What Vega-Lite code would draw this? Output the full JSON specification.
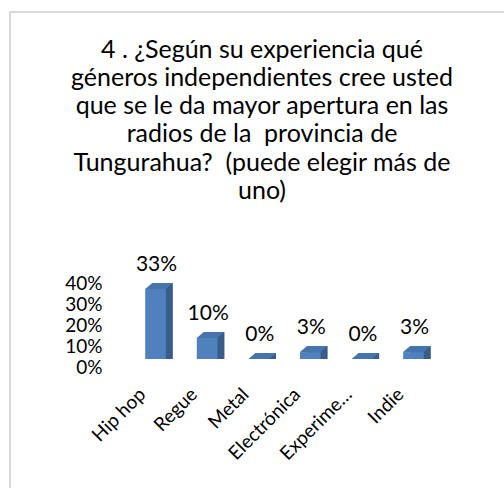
{
  "$schema": "https://vega.github.io/schema/vega-lite/v6.json",
  "autosize": {"type": "none"},
  "padding": {"left": 10, "top": 12, "right": 0, "bottom": 0},
  "width": 504,
  "height": 480,
  "background": "white",
  "config": {
    "font": "Lato",
    "view": {"stroke": "#d9d9d9", "strokeWidth": 2},
    "title": {"font": "Lato", "fontSize": 25, "fontWeight": "normal", "color": "#000000", "lineHeight": 28.3, "anchor": "middle", "frame": "group", "baseline": "alphabetic", "offset": -192}
  },
  "title": {"text": ["4 . ¿Según su experiencia qué", "géneros independientes cree usted", "que se le da mayor apertura en las", "radios de la\u00a0 provincia de", "Tungurahua?\u00a0 (puede elegir más de", "uno)"]},
  "data": {"values": [
    {"genre": "Hip hop", "value": 0.333},
    {"genre": "Regue", "value": 0.1},
    {"genre": "Metal", "value": 0},
    {"genre": "Electrónica", "value": 0.033},
    {"genre": "Experimental", "value": 0},
    {"genre": "Indie", "value": 0.033}
  ]},
  "encoding": {
    "x": {"field": "genre", "type": "nominal", "sort": null, "title": null,
      "scale": {"range": [135.2, 413.8], "paddingInner": 0.6, "paddingOuter": 0},
      "axis": {"orient": "bottom", "offset": -105, "domain": false, "ticks": false, "tickSize": 0, "labelPadding": 4, "labelAngle": -45, "labelAlign": "right", "labelBaseline": "middle", "labelOffset": -13, "labelFont": "Lato", "labelFontSize": 19, "labelColor": "#000000", "labelExpr": "datum.label == 'Experimental' ? 'Experime…' : datum.label"}},
    "y": {"field": "value", "type": "quantitative", "title": null,
      "scale": {"domain": [-0.6333, 1.6524], "nice": false, "zero": false},
      "axis": {"values": [0, 0.1, 0.2, 0.3, 0.4], "format": ".0%", "offset": -92, "domain": false, "ticks": false, "tickSize": 0, "labelPadding": 0, "grid": false, "labelOffset": 8, "labelFont": "Lato", "labelFontSize": 19, "labelColor": "#000000"}}
  },
  "layer": [
    {"mark": {"type": "bar", "color": "#385d8a", "xOffset": 7, "yOffset": -6}, "encoding": {"y2": {"datum": 0}}},
    {"mark": {"type": "point", "filled": true, "opacity": 1, "color": "#385d8a", "size": 784, "shape": "M 0.737 0 L 1.237 -0.429 L 0.737 -0.429 Z"},
     "encoding": {"y": {"datum": 0, "type": "quantitative", "scale": {"domain": [-0.6333, 1.6524], "nice": false, "zero": false}, "axis": {"values": [0, 0.1, 0.2, 0.3, 0.4], "format": ".0%", "offset": -92, "domain": false, "ticks": false, "tickSize": 0, "labelPadding": 0, "grid": false, "labelOffset": 8, "labelFont": "Lato", "labelFontSize": 19, "labelColor": "#000000"}, "title": null}}},
    {"mark": {"type": "bar", "color": "#4f81bd"}, "encoding": {"y2": {"datum": 0}}},
    {"mark": {"type": "point", "filled": true, "opacity": 1, "color": "#4674ad", "size": 784, "shape": "M -0.737 0 L 0.737 0 L 1.237 -0.429 L -0.237 -0.429 Z"}},
    {"mark": {"type": "text", "font": "Lato", "fontSize": 21, "color": "#000000", "baseline": "alphabetic", "dy": -18, "dx": 1},
     "encoding": {"text": {"field": "value", "type": "quantitative", "format": ".0%"}}}
  ]
}
